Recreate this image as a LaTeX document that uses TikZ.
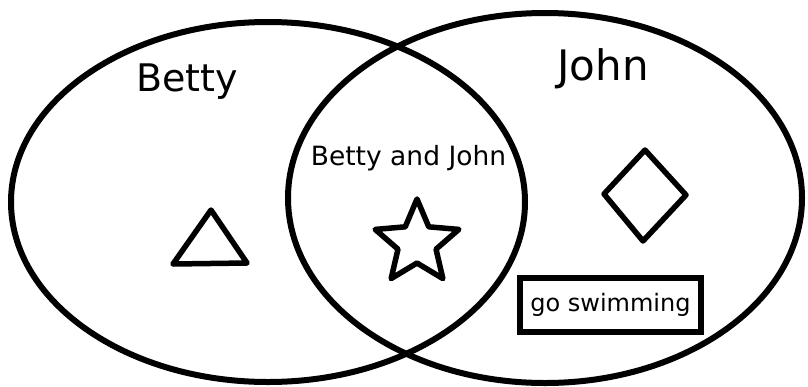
\documentclass[tikz,border=0pt]{standalone}
\usepackage{fontspec}
\setmainfont{DejaVu Sans}
\begin{document}
\begin{tikzpicture}[x=1pt,y=-1pt,
  ring/.style={draw=black,line width=6pt},
  figure/.style={draw=black,line width=5.5pt,line join=round,line cap=round},
  label/.style={anchor=base,inner sep=0pt,text=black}]
\useasboundingbox (0,0) rectangle (808,386);
\fill[white] (0,0) rectangle (808,386);
% circles
\draw[ring] (268,202) ellipse [x radius=257, y radius=180];
\draw[ring] (545,198) ellipse [x radius=257, y radius=185];
% labels
\node[label,font=\fontsize{38}{40}\selectfont] (betty) at (187,91) {Betty};
\node[label,font=\fontsize{42}{44}\selectfont] (john) at (603,80) {John};
\node[label,font=\fontsize{26.5}{28}\selectfont] (both) at (408.5,165) {Betty and John};
% triangle
\draw[figure] (211,210) -- (247,263) -- (173,264) -- cycle;
% star
\draw[figure] ({417+44*cos(-90)},{243+44*sin(-90)})
  \foreach \a/\r in {-54/20,-18/44,18/20,54/44,90/20,126/44,162/20,198/44,234/20} {
    -- ({417+\r*cos(\a)},{243+\r*sin(\a)})
  } -- cycle;
% diamond
\draw[figure] (645,150) -- (686,195) -- (643,241) -- (604,194) -- cycle;
% go swimming box
\node[draw=black,line width=6pt,minimum width=181pt,minimum height=54pt,inner sep=0pt] (box) at (610.5,305) {};
\node[label,font=\fontsize{24}{26}\selectfont] (swim) at (610.5,311) {go swimming};
\end{tikzpicture}
\end{document}
